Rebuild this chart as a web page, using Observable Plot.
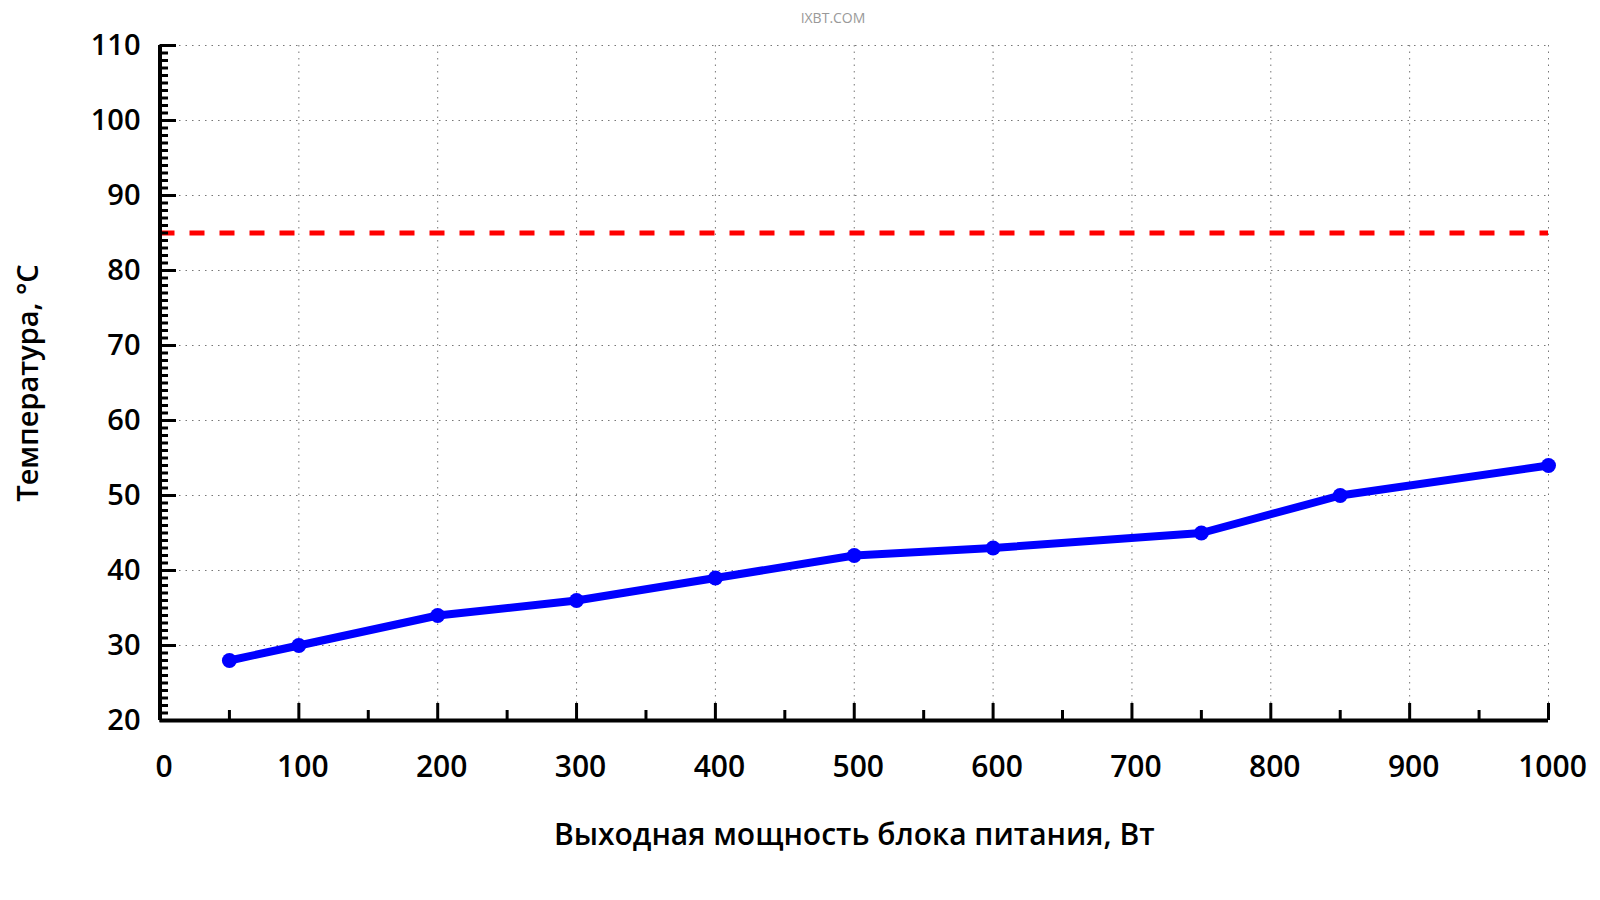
<!DOCTYPE html>
<html>
<head>
<meta charset="utf-8">
<script src="https://cdn.jsdelivr.net/npm/d3@7"></script>
<script src="https://cdn.jsdelivr.net/npm/@observablehq/plot@0.6"></script>
<style>
  html, body { margin: 0; padding: 0; background: #fff; }
  #wrap { position: relative; width: 1600px; height: 900px; }
  #top { position: absolute; left: 0; top: 0; width: 1600px; height: 36px; line-height: 36px; font-family: "Open Sans", sans-serif; font-size: 14px; color: #999; text-align: center; padding-left: 66px; box-sizing: border-box; z-index: 2; }
  #chart svg { display: block; }
</style>
</head>
<body>
<div id="wrap">
<div id="top">IXBT.COM</div>
<div id="chart"></div>
</div>
<script>
const power = [50, 100, 200, 300, 400, 500, 600, 750, 850, 1000];
const temperature = [28, 30, 34, 36, 39, 42, 43, 45, 50, 54];
const limitTemp = [85];
const xMajor = [0, 100, 200, 300, 400, 500, 600, 700, 800, 900, 1000];
const xMinor = [50, 150, 250, 350, 450, 550, 650, 750, 850, 950];
const yMajor = [20, 30, 40, 50, 60, 70, 80, 90, 100, 110];
const yMinor = d3.range(21, 110).filter(v => v % 10 !== 0);
const xGrid = [100, 200, 300, 400, 500, 600, 700, 800, 900, 1000];
const yGrid = [30, 40, 50, 60, 70, 80, 90, 100, 110];
const xTitle = "Выходная мощность блока питания, Вт";
const yTitle = "Температура, °C";

const data = power.map((p, i) => ({power: p, temp: temperature[i]}));

const font = {fontSize: 30, fontWeight: 600};

const chart = Plot.plot({
  width: 1600,
  height: 900,
  marginTop: 45,
  marginBottom: 180,
  marginLeft: 159.5,
  marginRight: 52,
  style: {fontFamily: "'Open Sans', sans-serif", color: "black", background: "white"},
  x: {domain: [0, 1000]},
  y: {domain: [20, 110]},
  marks: [
    Plot.gridX(xGrid, {stroke: "#777", strokeOpacity: 1, strokeWidth: 1, strokeDasharray: "1.5,5"}),
    Plot.gridY(yGrid, {stroke: "#777", strokeOpacity: 1, strokeWidth: 1, strokeDasharray: "1.5,5"}),
    Plot.ruleY(limitTemp, {stroke: "#ff0000", strokeWidth: 5, strokeDasharray: "15,15"}),
    Plot.axisY(yMinor, {tickSize: -8.5, strokeWidth: 3, text: null, label: null}),
    Plot.axisY(yMajor, {tickSize: -16.5, strokeWidth: 3, text: null, label: null}),
    Plot.axisX(xMinor, {tickSize: -10, strokeWidth: 3, text: null, label: null}),
    Plot.axisX(xMajor, {tickSize: -17, strokeWidth: 3, text: null, label: null}),
    Plot.ruleX([0], {strokeWidth: 4, stroke: "black"}),
    Plot.ruleY([20], {strokeWidth: 4, stroke: "black"}),
    Plot.axisY(yMajor, {tickSize: 0, tickPadding: 19.5, label: null, tickFormat: d => String(d), fontSize: 29, fontWeight: 600}),
    Plot.axisX(xMajor, {tickSize: 0, tickPadding: 35, dx: 4, label: null, tickFormat: d => String(d), ...font}),
    Plot.line(data, {x: "power", y: "temp", stroke: "#0000ff", strokeWidth: 8, strokeLinejoin: "round"}),
    Plot.dot(data, {x: "power", y: "temp", r: 7.5, fill: "#0000ff"}),
    Plot.text([xTitle], {text: d => d, frameAnchor: "bottom", textAnchor: "middle", dy: 115, lineAnchor: "middle", ...font}),
    Plot.text([yTitle], {text: d => d, frameAnchor: "left", textAnchor: "middle", rotate: -90, dx: -131.5, lineAnchor: "middle", fontSize: 29, fontWeight: 600})
  ]
});
document.getElementById("chart").appendChild(chart);
</script>
</body>
</html>
